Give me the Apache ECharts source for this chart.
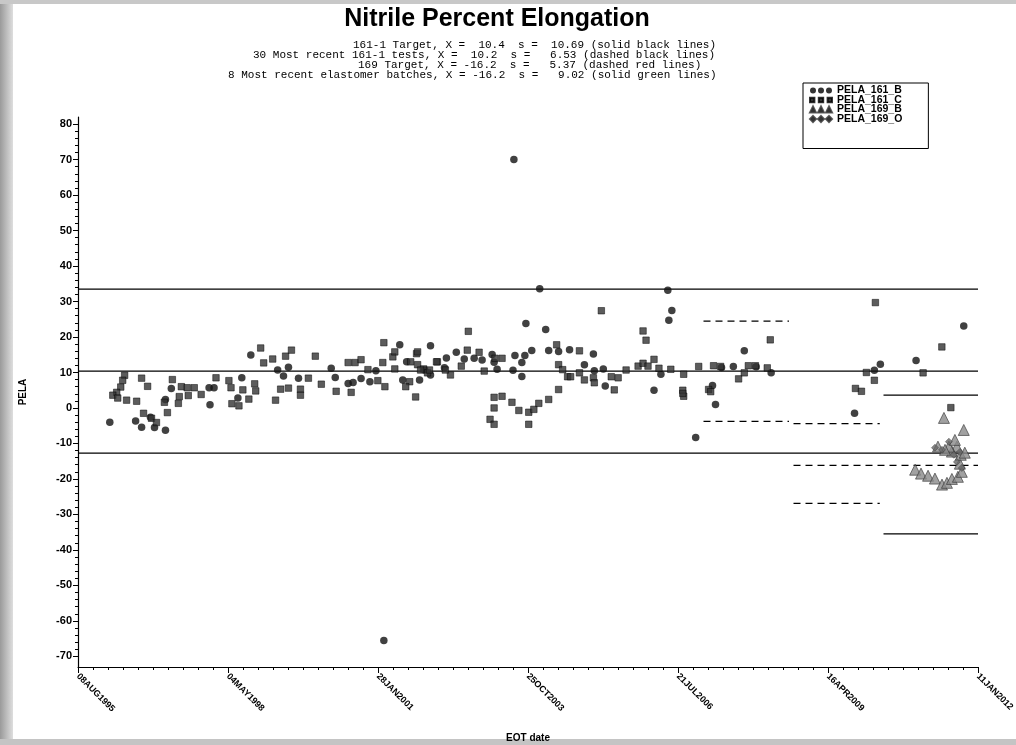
<!DOCTYPE html>
<html>
<head>
<meta charset="utf-8">
<script src="https://cdn.jsdelivr.net/npm/echarts@6/dist/echarts.min.js"></script>
<style>
html,body{margin:0;padding:0;background:#fff;}
#chart{width:1016px;height:745px;}
</style>
</head>
<body>
<div id="chart"></div>
<script>
// ---------- DATA ----------
// x values are days counted from the first axis tick date (08AUG1995)
const xTickLabels = ['08AUG1995','04MAY1998','28JAN2001','25OCT2003','21JUL2006','16APR2009','11JAN2012'];
const xTickDays = [0,1000,2000,3000,4000,5000,6000];
const yTickValues = [-70,-60,-50,-40,-30,-20,-10,0,10,20,30,40,50,60,70,80];

const seriesNames = ['PELA_161_B','PELA_161_C','PELA_169_B','PELA_169_O'];

const pela161B = [[212,-4.0],[384,-3.7],[424,-5.4],[510,-5.5],[583,-6.3],[483,-2.6],[622,5.5],[583,2.4],[874,5.7],[907,5.7],[880,0.9],[1066,2.8],[1092,8.5],[1152,14.9],[1331,10.7],[1403,11.5],[1370,9.0],[1470,8.4],[1688,11.2],[1715,8.6],[1801,6.9],[1834,7.2],[1887,8.3],[1946,7.4],[1986,10.5],[2145,17.8],[2165,7.9],[2191,13.0],[2350,17.5],[2456,14.1],[2522,15.7],[2277,7.9],[2350,9.3],[2311,10.7],[2443,11.3],[2575,13.8],[2641,14.0],[2694,13.5],[2761,15.1],[2774,12.9],[2794,10.9],[2900,10.6],[2913,14.8],[2959,12.8],[2979,14.8],[3025,16.2],[2986,23.8],[3078,33.6],[3118,22.1],[3138,16.2],[3204,15.9],[3277,16.4],[3376,12.2],[3436,15.2],[3442,10.5],[3502,11.0],[3515,6.2],[2959,8.9],[3840,5.0],[3886,9.5],[3932,33.2],[3939,24.7],[3959,27.5],[4118,-8.3],[4230,6.3],[4250,1.0],[4290,11.4],[4369,11.7],[4442,16.1],[4521,11.6],[4621,9.9],[5177,-1.5],[5309,10.6],[5349,12.3],[5587,13.4],[5905,23.1],[2906,70.0],[2039,-65.5]];

const pela161C = [[311,9.2],[298,7.8],[285,5.9],[258,4.4],[232,3.6],[265,2.8],[324,2.2],[391,1.9],[424,8.4],[464,6.1],[437,-1.5],[490,-2.9],[523,-4.1],[596,-1.3],[576,1.6],[629,8.0],[675,3.2],[669,1.3],[689,6.0],[728,5.7],[775,5.7],[735,3.5],[821,3.8],[920,8.5],[1006,7.7],[1020,5.7],[1099,5.1],[1139,2.5],[1178,6.8],[1185,4.8],[1026,1.2],[1073,0.6],[1218,16.9],[1238,12.7],[1298,13.8],[1384,14.6],[1423,16.3],[1351,5.3],[1403,5.6],[1483,5.3],[1483,3.6],[1317,2.2],[1536,8.4],[1582,14.6],[1622,6.7],[1721,4.7],[1821,4.4],[1801,12.8],[1847,12.8],[1887,13.6],[1933,10.8],[1999,7.7],[2046,6.0],[2032,12.8],[2039,18.4],[2099,14.4],[2112,15.8],[2112,11.0],[2211,7.4],[2257,15.3],[2264,12.2],[2304,11.0],[2330,9.9],[2251,3.1],[2396,13.0],[2483,9.3],[2185,6.0],[2264,15.8],[2218,13.0],[2284,10.7],[2343,10.7],[2390,13.0],[2449,10.7],[2555,11.8],[2602,21.6],[2595,16.3],[2674,15.7],[2708,10.4],[2780,14.0],[2827,14.0],[2774,3.0],[2827,3.3],[2774,0.0],[2747,-3.2],[2774,-4.6],[2893,1.6],[2939,-0.7],[3005,-1.2],[3039,-0.4],[3072,1.3],[3138,2.4],[3191,17.8],[3204,12.2],[3231,10.8],[3264,8.8],[3284,8.8],[3343,16.1],[3343,9.9],[3376,7.9],[3436,8.5],[3442,7.1],[3489,27.4],[3204,5.2],[3005,-4.6],[3555,8.8],[3601,8.5],[3575,5.1],[3654,10.7],[3734,11.8],[3767,12.6],[3767,21.7],[3787,19.1],[3840,13.7],[3800,11.8],[3873,11.2],[3952,10.9],[4038,9.5],[4032,5.0],[4038,3.3],[4138,11.7],[4204,5.2],[4237,11.9],[4284,11.7],[4032,4.1],[4218,4.6],[4404,8.2],[4442,9.9],[4469,11.9],[4516,11.9],[4595,11.3],[4615,19.2],[5183,5.5],[5223,4.7],[5256,10.0],[5309,7.8],[5316,29.7],[5634,9.9],[5759,17.2],[5819,0.1]];

const pela169B = [[5773,-2.8],[5905,-6.2],[5581,-17.4],[5620,-18.5],[5667,-19.1],[5713,-19.9],[5760,-21.6],[5793,-21.1],[5826,-20.0],[5866,-19.4],[5892,-18.0],[5879,-15.7],[5885,-13.2],[5859,-10.9],[5826,-12.3],[5806,-10.9],[5780,-11.8],[5733,-10.9],[5912,-12.6],[5846,-9.0]];

const pela169O = [[5713,-11.2],[5760,-11.8],[5806,-9.5],[5839,-13.2],[5879,-12.4],[5859,-15.2],[5892,-16.9]];

// reference limits [upper, centre, lower]
const target161 = [33.5, 10.4, -12.7];          // solid black, whole period
const recent161 = [24.5, -3.8];                  // dashed black
const recent161Days = [4170, 4740];
const target169 = [-4.4, -16.2, -26.9];          // dashed
const target169Days = [4770, 5345];
const target169CentreDays = [4770, 6000];
const batches169 = [3.6, -35.5];                 // solid
const batches169Days = [5370, 6000];

const subtitleLines = [
  '161-1 Target, X =  10.4  s =  10.69 (solid black lines)',
  '30 Most recent 161-1 tests, X =  10.2  s =   6.53 (dashed black lines)',
  '169 Target, X = -16.2  s =   5.37 (dashed red lines)',
  '8 Most recent elastomer batches, X = -16.2  s =   9.02 (solid green lines)'
];

// ---------- CHART ----------
const chart = echarts.init(document.getElementById('chart'), null, {renderer:'canvas'});

function hLine(name, y, days, dashed){
  return {
    type:'line', name:name, silent:true, symbol:'none', animation:false,
    data:[[days[0], y],[days[1], y]],
    lineStyle:{color:'#000', width:1.2, type: dashed ? [7,5] : 'solid'},
    z:1
  };
}

const lineSeries = [];
target161.forEach(v => lineSeries.push(hLine('t161', v, [0,6000], false)));
recent161.forEach(v => lineSeries.push(hLine('r161', v, recent161Days, true)));
[target169[0], target169[2]].forEach(v => lineSeries.push(hLine('t169', v, target169Days, true)));
lineSeries.push(hLine('t169c', target169[1], target169CentreDays, true));
batches169.forEach(v => lineSeries.push(hLine('b169', v, batches169Days, false)));

const axisFont = {fontFamily:'Liberation Sans, Arial, sans-serif', fontWeight:'bold', color:'#000'};

const option = {
  backgroundColor:'#fff',
  animation:false,
  grid:{left:78, right:38, top:117, bottom:78, containLabel:false, outerBoundsMode:'none'},
  legend:{
    data: seriesNames,
    orient:'vertical',
    left:803, top:83,
    itemWidth:22, itemHeight:6, itemGap:-1.5,
    borderColor:'#000', borderWidth:1,
    padding:[2,26,24,6],
    textStyle:{fontFamily:'Liberation Sans, Arial', fontWeight:'bold', fontSize:10.5, lineHeight:9.5, color:'#000'}
  },
  xAxis:[{
    type:'value', min:0, max:6000,
    name:'EOT date', nameLocation:'middle', nameGap:66,
    nameTextStyle:Object.assign({fontSize:10}, axisFont),
    axisLine:{show:true, onZero:false, lineStyle:{color:'#000', width:1.2}},
    axisTick:{show:true, length:6, customValues:xTickDays, lineStyle:{color:'#000'}},
    axisLabel:Object.assign({show:true, rotate:-45, fontSize:9, margin:8,
      customValues:xTickDays, hideOverlap:false,
      formatter: v => xTickLabels[Math.round(v/1000)]}, axisFont),
    splitLine:{show:false}
  },{
    type:'value', min:0, max:6000, position:'bottom',
    axisLine:{show:false, onZero:false},
    axisTick:{show:true, length:3, customValues:Array.from({length:61},(_, i)=>i*100), lineStyle:{color:'#000'}},
    axisLabel:{show:false}, splitLine:{show:false}
  }],
  yAxis:[{
    type:'value', min:-73, max:82,
    name:'PELA', nameLocation:'middle', nameGap:50, nameRotate:90,
    nameTextStyle:Object.assign({fontSize:10}, axisFont),
    axisLine:{show:true, onZero:false, lineStyle:{color:'#000', width:1.2}},
    axisTick:{show:true, length:5, customValues:yTickValues, lineStyle:{color:'#000'}},
    axisLabel:Object.assign({show:true, fontSize:11, margin:6, customValues:yTickValues}, axisFont),
    splitLine:{show:false}
  },{
    type:'value', min:-73, max:82, position:'left',
    axisLine:{show:false, onZero:false},
    axisTick:{show:true, length:3, customValues:Array.from({length:76},(_, i)=>-70+i*2), lineStyle:{color:'#000'}},
    axisLabel:{show:false}, splitLine:{show:false}
  }],
  series: lineSeries.concat([
    {name:seriesNames[0], type:'scatter', data:pela161B, symbol:'circle', symbolSize:7.5,
      itemStyle:{color:'#111'}, z:3},
    {name:seriesNames[1], type:'scatter', data:pela161C, symbol:'rect', symbolSize:6.5,
      itemStyle:{color:'#333', borderColor:'#000', borderWidth:0.6}, z:3},
    {name:seriesNames[2], type:'scatter', data:pela169B, symbol:'triangle', symbolSize:11,
      itemStyle:{color:'#8a8a8a', borderColor:'#333', borderWidth:0.8}, z:3},
    {name:seriesNames[3], type:'scatter', data:pela169O, symbol:'diamond', symbolSize:7,
      itemStyle:{color:'#666', borderColor:'#333', borderWidth:0.5}, z:4}
  ]),
  graphic:[
    {type:'rect', left:0, top:0, shape:{width:13, height:745}, style:{fill:new echarts.graphic.LinearGradient(0,0,1,0,[{offset:0,color:'#9a9a9a'},{offset:1,color:'#dedede'}])}, silent:true, z:-10},
    {type:'rect', left:0, top:0, shape:{width:1016, height:4}, style:{fill:'#c8c8c8'}, silent:true, z:-10},
    {type:'rect', left:0, top:739, shape:{width:1016, height:6}, style:{fill:'#c4c4c4'}, silent:true, z:-10},
    {type:'text', x:497, y:7, style:{text:'Nitrile Percent Elongation', textAlign:'center', fontFamily:'Liberation Sans, Arial', fontWeight:'bold', fontSize:25, fill:'#000'}},
    {type:'text', x:353, y:40, style:{text:subtitleLines[0], fontFamily:'Liberation Mono, DejaVu Sans Mono, monospace', fontSize:11, fill:'#000'}},
    {type:'text', x:253, y:50, style:{text:subtitleLines[1], fontFamily:'Liberation Mono, DejaVu Sans Mono, monospace', fontSize:11, fill:'#000'}},
    {type:'text', x:358, y:60, style:{text:subtitleLines[2], fontFamily:'Liberation Mono, DejaVu Sans Mono, monospace', fontSize:11, fill:'#000'}},
    {type:'text', x:228, y:70, style:{text:subtitleLines[3], fontFamily:'Liberation Mono, DejaVu Sans Mono, monospace', fontSize:11, fill:'#000'}}
  ]
};

// three-symbol legend icons
const legendIcons = {
  'PELA_161_B':'path://M0,3a3,3 0 1,0 6,0a3,3 0 1,0 -6,0M8,3a3,3 0 1,0 6,0a3,3 0 1,0 -6,0M16,3a3,3 0 1,0 6,0a3,3 0 1,0 -6,0',
  'PELA_161_C':'path://M1,1h4v4h-4zM9,1h4v4h-4zM17,1h4v4h-4z',
  'PELA_169_B':'path://M3,0L6,6L0,6ZM11,0L14,6L8,6ZM19,0L22,6L16,6Z',
  'PELA_169_O':'path://M3,0L6,3L3,6L0,3ZM11,0L14,3L11,6L8,3ZM19,0L22,3L19,6L16,3Z'
};
option.legend.data = seriesNames.map(n => ({name:n, icon:legendIcons[n], itemStyle:{color:'#000'}}));

chart.setOption(option);
</script>
</body>
</html>
